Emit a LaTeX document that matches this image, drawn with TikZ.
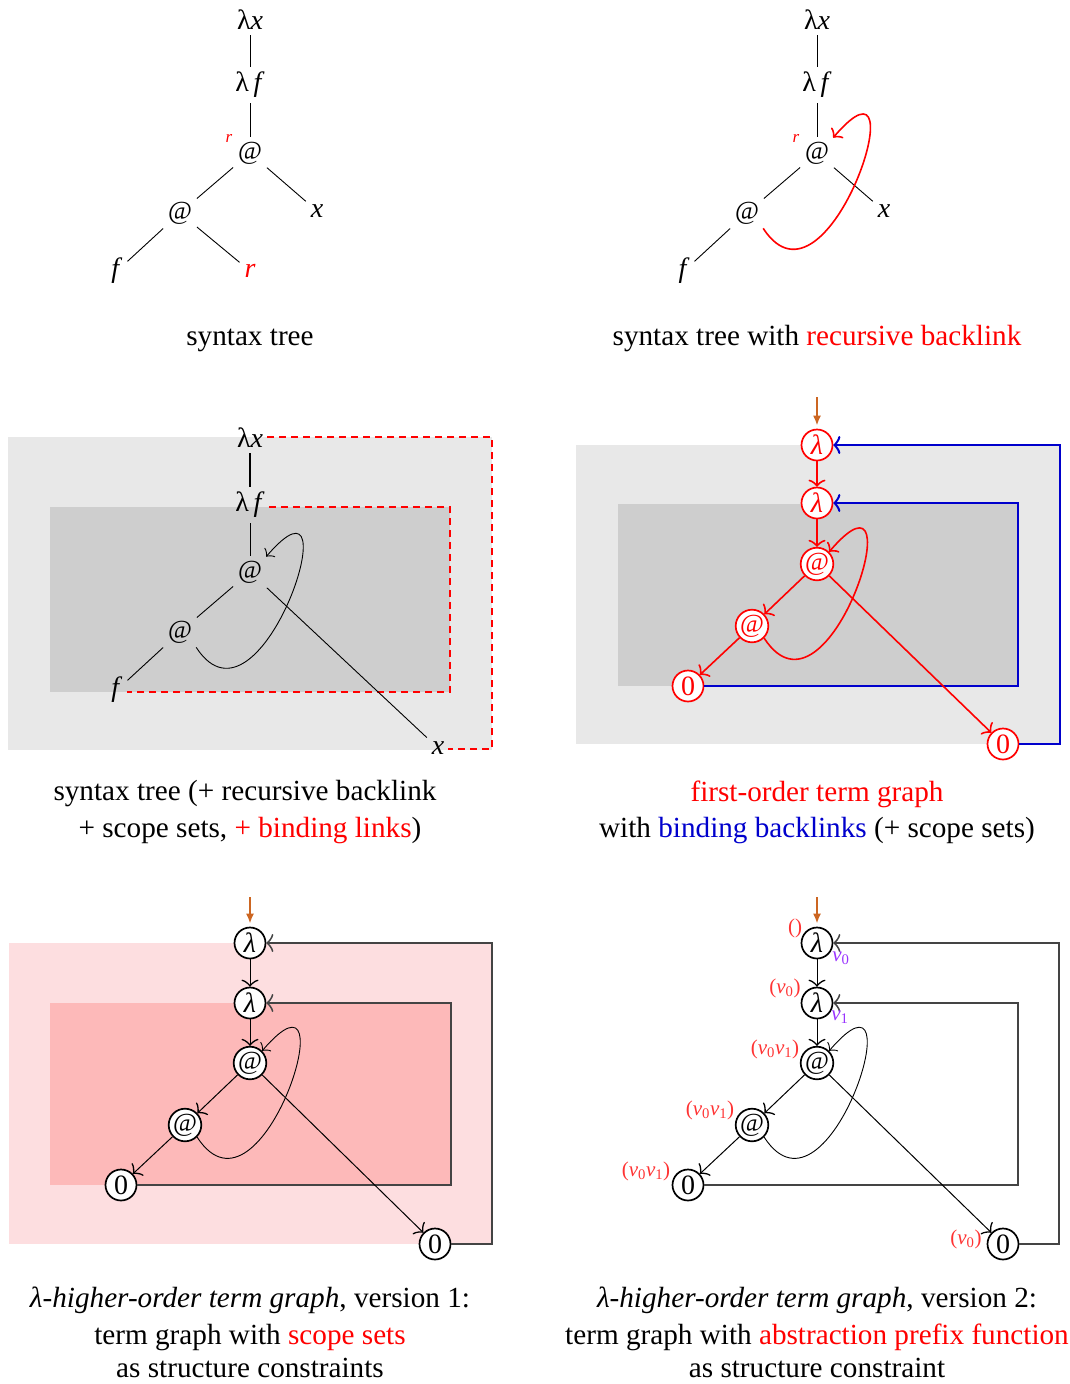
\documentclass[tikz,border=0pt]{standalone}
\usepackage{fontspec}
\setmainfont{Liberation Serif}
\usetikzlibrary{arrows.meta}
\definecolor{gOut}{HTML}{E8E8E8}
\definecolor{gIn}{HTML}{CECECE}
\definecolor{pOut}{HTML}{FDDEE0}
\definecolor{pIn}{HTML}{FDB9B9}
\definecolor{myred}{HTML}{FF0000}
\definecolor{lred}{HTML}{FF3333}
\definecolor{myblue}{HTML}{0000CC}
\definecolor{myorange}{HTML}{CC6622}
\definecolor{mypurple}{HTML}{9933FF}
\definecolor{frameC}{HTML}{444444}
\newcommand\myfA{\fontsize{28}{34}\selectfont}
\newcommand\myfC{\fontsize{29.2}{34}\selectfont}
\newcommand\myfAt{\fontsize{26}{30}\selectfont}
\newcommand\myfS{\fontsize{21}{24}\selectfont}
\newcommand\myfR{\fontsize{17}{20}\selectfont}
\begin{document}
\begin{tikzpicture}[x=1pt,y=-1pt,
  every node/.style={font=\myfA},
  tl/.style={inner sep=4pt},
  tat/.style={inner sep=4pt, font=\myfAt},
  tedge/.style={line width=0.9pt, shorten <=1pt, shorten >=1pt},
  cnode/.style={circle, draw, fill=white, line width=1.7pt, inner sep=0pt, minimum size=31pt},
  catn/.style={cnode, font=\myfAt},
  redc/.style={draw=myred, text=myred},
  gedge/.style={line width=1pt, -{Classical TikZ Rightarrow[length=7pt,width=17pt,line width=1.3pt]}},
  redge/.style={line width=1.6pt, myred, -{Classical TikZ Rightarrow[length=7pt,width=17pt,line width=1.6pt]}},
  curveT/.style={line width=0.9pt, -{Classical TikZ Rightarrow[length=6pt,width=14pt,line width=0.9pt]}},
  curveR/.style={line width=1.6pt, myred, -{Classical TikZ Rightarrow[length=7pt,width=16pt,line width=1.6pt]}},
  blueF/.style={line width=2pt, myblue, -{Classical TikZ Rightarrow[length=7pt,width=18pt,line width=2pt]}},
  blackF/.style={line width=1.3pt, frameC, -{Classical TikZ Rightarrow[length=7pt,width=18pt,line width=1.5pt]}},
  dashR/.style={line width=1.6pt, myred, dash pattern=on 7pt off 5pt},
  inarrow/.style={line width=2pt, myorange, -{Latex[length=10pt,width=8pt]}, shorten >=3pt},
  captxt/.style={anchor=base, font=\myfC},
  smallred/.style={font=\myfS, text=lred, inner sep=0pt},
  smallpur/.style={font=\myfS, text=mypurple, inner sep=0pt}
]
\useasboundingbox (0,0) rectangle (1070,1384);

% ---------------- Panel 1 ----------------
\node[tl] (p1lx) at (250,20) {λ\textit{x}};
\node[tl] (p1lf) at (250,85) {λ\,\textit{f}};
\node[tat] (p1a1) at (250,153) {@};
\node[tat] (p1a2) at (180,213) {@};
\node[tl] (p1x) at (317,211) {\textit{x}};
\node[tl] (p1f) at (117,271) {\textit{f}};
\node[tl, text=myred] (p1r) at (250,271) {\textit{r}};
\node[font=\myfR, text=myred, inner sep=0pt] (p1rl) at (229,138) {\textit{r}};
\draw[tedge] (p1lx) -- (p1lf);
\draw[tedge] (p1lf) -- (p1a1);
\draw[tedge] (p1a1) -- (p1a2);
\draw[tedge] (p1a1) -- (p1x);
\draw[tedge] (p1a2) -- (p1f);
\draw[tedge] (p1a2) -- (p1r);
\node[captxt] (p1cap) at (250,345) {syntax tree};

% ---------------- Panel 2 ----------------
\node[tl] (p2lx) at (817,20) {λ\textit{x}};
\node[tl] (p2lf) at (817,85) {λ\,\textit{f}};
\node[tat] (p2a1) at (817,153) {@};
\node[tat] (p2a2) at (747,213) {@};
\node[tl] (p2x) at (884,211) {\textit{x}};
\node[tl] (p2f) at (684,271) {\textit{f}};
\node[font=\myfR, text=myred, inner sep=0pt] (p2rl) at (796,138) {\textit{r}};
\draw[tedge] (p2lx) -- (p2lf);
\draw[tedge] (p2lf) -- (p2a1);
\draw[tedge] (p2a1) -- (p2a2);
\draw[tedge] (p2a1) -- (p2x);
\draw[tedge] (p2a2) -- (p2f);
\draw[curveR] (p2a2.south east) .. controls +(65,100) and +(90,-105) .. (p2a1.north east);
\node[captxt] (p2cap) at (817,345) {syntax tree with \textcolor{myred}{recursive backlink}};

% ---------------- Panel 3 ----------------
\fill[gOut] (8,437) rectangle (492,750);
\fill[gIn] (50,507) rectangle (450,692);
\node[tl] (p3lx) at (250,438) {λ\textit{x}};
\node[tl] (p3lf) at (250,505) {λ\,\textit{f}};
\node[tat] (p3a1) at (250,572) {@};
\node[tat] (p3a2) at (180,632) {@};
\node[tl] (p3f) at (117,690) {\textit{f}};
\node[tl] (p3x) at (438,748) {\textit{x}};
\coordinate (p3c1) at (492,437);
\coordinate (p3c2) at (492,749);
\coordinate (p3c3) at (450,507);
\coordinate (p3c4) at (450,692);
\draw[dashR] (p3lx.east |- p3c1) -- (p3c1) -- (p3c2) -- (p3x.east |- p3c2);
\draw[dashR] (p3lf.east |- p3c3) -- (p3c3) -- (p3c4) -- (p3f.east |- p3c4);
\draw[tedge, line width=2pt] (p3lx) -- (p3lf);
\draw[tedge] (p3lf) -- (p3a1);
\draw[tedge] (p3a1) -- (p3a2);
\draw[tedge] (p3a2) -- (p3f);
\draw[tedge] (p3a1) -- (p3x);
\draw[curveT] (p3a2.south east) .. controls +(65,100) and +(90,-105) .. (p3a1.north east);
\node[captxt] (p3cap1) at (245,800) {syntax tree (+ recursive backlink};
\node[captxt] (p3cap2) at (250,837) {+ scope sets, \textcolor{myred}{+ binding links})};

% ---------------- Panel 4 ----------------
\fill[gOut] (576,445) rectangle (1060,744);
\fill[gIn] (618,504) rectangle (1018,686);
\coordinate (p4in) at (817,397);
\coordinate (p4b1) at (1060,744);
\coordinate (p4b2) at (1060,445);
\coordinate (p4b3) at (1018,686);
\coordinate (p4b4) at (1018,503);
\node[cnode, redc] (p4l1) at (817,445) {\textit{λ}};
\node[cnode, redc] (p4l2) at (817,503) {\textit{λ}};
\node[catn, redc] (p4a1) at (817,564) {@};
\node[catn, redc] (p4a2) at (752,626) {@};
\node[cnode, redc] (p4z1) at (688,686) {0};
\node[cnode, redc] (p4z2) at (1003,744) {0};
\draw[blueF] (p4z2.east) -- (p4b1) -- (p4b2) -- (p4l1.east);
\draw[blueF] (p4z1.east) -- (p4b3) -- (p4b4) -- (p4l2.east);
\draw[inarrow] (p4in) -- (p4l1.north);
\draw[redge] (p4l1) -- (p4l2);
\draw[redge] (p4l2) -- (p4a1);
\draw[redge] (p4a1) -- (p4a2);
\draw[redge] (p4a2) -- (p4z1);
\draw[redge] (p4a1) -- (p4z2);
\draw[curveR] (p4a2.-45) .. controls +(65,100) and +(90,-105) .. (p4a1.45);
\node[captxt, text=myred] (p4cap1) at (817,801) {first-order term graph};
\node[captxt] (p4cap2) at (817,837) {with \textcolor{myblue}{binding backlinks} (+ scope sets)};

% ---------------- Panel 5 ----------------
\fill[pOut] (9,943) rectangle (492,1244);
\fill[pIn] (50,1003) rectangle (451,1185);
\coordinate (p5in) at (250,897);
\coordinate (p5b1) at (492,1244);
\coordinate (p5b2) at (492,943);
\coordinate (p5b3) at (451,1185);
\coordinate (p5b4) at (451,1003);
\node[cnode] (p5l1) at (250,943) {\textit{λ}};
\node[cnode] (p5l2) at (250,1003) {\textit{λ}};
\node[catn] (p5a1) at (250,1063) {@};
\node[catn] (p5a2) at (185,1125) {@};
\node[cnode] (p5z1) at (121,1185) {0};
\node[cnode] (p5z2) at (435,1244) {0};
\draw[blackF] (p5z2.east) -- (p5b1) -- (p5b2) -- (p5l1.east);
\draw[blackF] (p5z1.east) -- (p5b3) -- (p5b4) -- (p5l2.east);
\draw[inarrow] (p5in) -- (p5l1.north);
\draw[gedge] (p5l1) -- (p5l2);
\draw[gedge] (p5l2) -- (p5a1);
\draw[gedge] (p5a1) -- (p5a2);
\draw[gedge] (p5a2) -- (p5z1);
\draw[gedge] (p5a1) -- (p5z2);
\draw[curveT] (p5a2.-45) .. controls +(65,100) and +(90,-105) .. (p5a1.45);
\node[captxt] (p5cap1) at (250,1307) {\textit{λ-higher-order term graph}, version 1:};
\node[captxt] (p5cap2) at (250,1344) {term graph with \textcolor{myred}{scope sets}};
\node[captxt] (p5cap3) at (250,1377) {as structure constraints};

% ---------------- Panel 6 ----------------
\coordinate (p6in) at (817,897);
\coordinate (p6b1) at (1059,1244);
\coordinate (p6b2) at (1059,943);
\coordinate (p6b3) at (1018,1185);
\coordinate (p6b4) at (1018,1003);
\node[cnode] (p6l1) at (817,943) {\textit{λ}};
\node[cnode] (p6l2) at (817,1003) {\textit{λ}};
\node[catn] (p6a1) at (817,1063) {@};
\node[catn] (p6a2) at (752,1125) {@};
\node[cnode] (p6z1) at (688,1185) {0};
\node[cnode] (p6z2) at (1003,1244) {0};
\draw[blackF] (p6z2.east) -- (p6b1) -- (p6b2) -- (p6l1.east);
\draw[blackF] (p6z1.east) -- (p6b3) -- (p6b4) -- (p6l2.east);
\draw[inarrow] (p6in) -- (p6l1.north);
\draw[gedge] (p6l1) -- (p6l2);
\draw[gedge] (p6l2) -- (p6a1);
\draw[gedge] (p6a1) -- (p6a2);
\draw[gedge] (p6a2) -- (p6z1);
\draw[gedge] (p6a1) -- (p6z2);
\draw[curveT] (p6a2.-45) .. controls +(65,100) and +(90,-105) .. (p6a1.45);
\node[smallred] (p6e1) at (795,928) {()};
\node[smallred] (p6e2) at (785,988) {(\textit{v}\textsubscript{0})};
\node[smallred] (p6e3) at (775,1049) {(\textit{v}\textsubscript{0}\textit{v}\textsubscript{1})};
\node[smallred] (p6e4) at (710,1110) {(\textit{v}\textsubscript{0}\textit{v}\textsubscript{1})};
\node[smallred] (p6e5) at (646,1171) {(\textit{v}\textsubscript{0}\textit{v}\textsubscript{1})};
\node[smallred] (p6e6) at (966,1239) {(\textit{v}\textsubscript{0})};
\node[smallpur] (p6v0) at (841,958) {\textit{v}\textsubscript{0}};
\node[smallpur] (p6v1) at (840,1017) {\textit{v}\textsubscript{1}};
\node[captxt] (p6cap1) at (817,1307) {\textit{λ-higher-order term graph}, version 2:};
\node[captxt] (p6cap2) at (817,1344) {term graph with \textcolor{myred}{abstraction prefix function}};
\node[captxt] (p6cap3) at (817,1377) {as structure constraint};
\end{tikzpicture}
\end{document}
